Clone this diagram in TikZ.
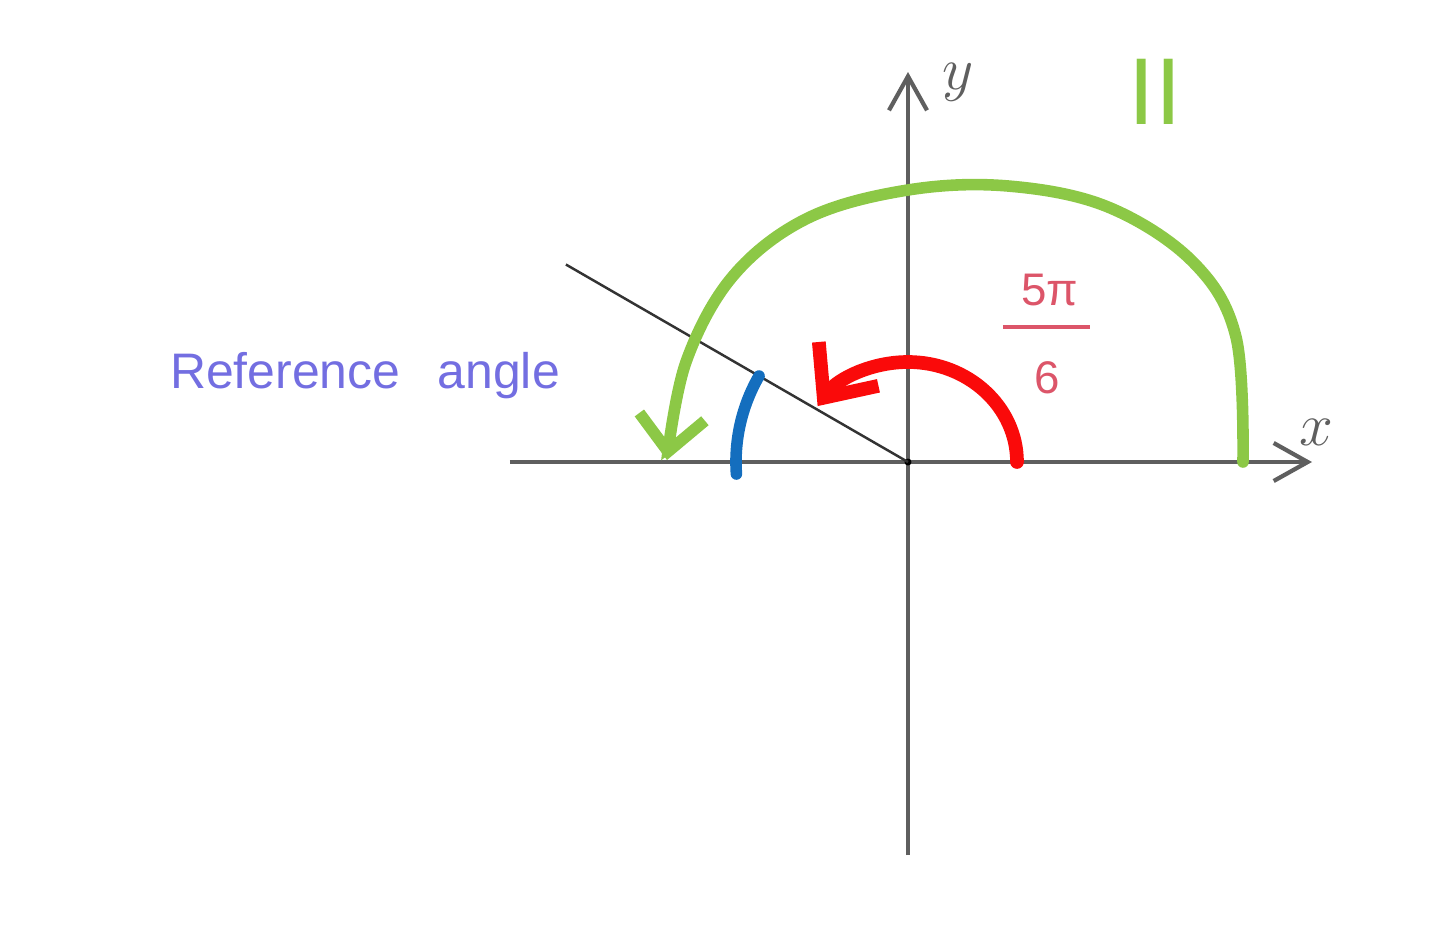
\documentclass[tikz,border=0pt]{standalone}
\usepackage{fontspec}
\setmainfont{Liberation Sans}
\usetikzlibrary{arrows.meta}
\definecolor{axisgray}{RGB}{95,95,95}
\definecolor{arcgreen}{RGB}{140,200,70}
\definecolor{arcred}{RGB}{250,10,10}
\definecolor{arcblue}{RGB}{20,110,190}
\definecolor{fracred}{RGB}{220,85,105}
\definecolor{refblue}{RGB}{115,110,225}
\tikzset{
  axisline/.style={color=axisgray,line width=1.2pt,-{Straight Barb[length=0.34cm,width=0.38cm]}},
  arcline/.style={line width=3.3pt,line cap=round}
}
\begin{document}
\begin{tikzpicture}
            \useasboundingbox (-9.08,-4.87) rectangle (5.32,4.62);
            \coordinate (O) at (0,0);
            % Axis
            \draw [axisline] (-3.98,0)--(4.04,0) coordinate (xend);
            \draw [axisline] (0,-3.93)--(0,3.90) coordinate (yend);
            \node [axisgray,font=\fontsize{16}{16}\selectfont] (xlab) at (4.08,0.30) {$x$};
            \node [axisgray,font=\fontsize{16}{16}\selectfont] (ylab) at (0.50,3.80) {$y$};
            \fill [black] (O) circle (0.035);

            % Terminal side
            \draw [color=black!80,line width=0.7pt] (O)--(150:3.95) coordinate (term);

            % Quadrant
            \node [arcgreen,font=\fontsize{27}{27}\selectfont] (quad) at (2.47,3.70) {II};

            % 5pi/6 rotation
            \draw [arcline,color=arcgreen,-{Straight Barb[length=0.35cm,width=0.66cm]}]
              plot [smooth,tension=0.6] coordinates {(3.35,0) (3.28,1.25) (2.85,2.0) (2.0,2.55)
              (1.0,2.76) (0,2.72) (-1.0,2.44) (-1.75,1.86) (-2.22,1.0) (-2.41,0.02)};
            \draw [arcline,line width=3.9pt,color=arcred,-{Straight Barb[length=0.42cm,width=0.74cm]}]
              (1.09,0) arc [start angle=0,end angle=146,x radius=1.09,y radius=1.0];
            \node [fracred,font=\fontsize{13}{13}\selectfont] (num) at (1.42,1.72) {5π};
            \draw [fracred,line width=1.4pt] (0.95,1.35)--(1.82,1.35);
            \node [fracred,font=\fontsize{13}{13}\selectfont] (den) at (1.39,0.84) {6};

            % Reference angle
            \draw [arcline,color=arcblue] (184:1.72) arc [start angle=184,end angle=150,radius=1.72];
            \node [refblue,font=\fontsize{14.2}{16}\selectfont] (reflab) at (-5.43,0.86) {Reference\hspace{0.75em}angle};
        \end{tikzpicture}
\end{document}
